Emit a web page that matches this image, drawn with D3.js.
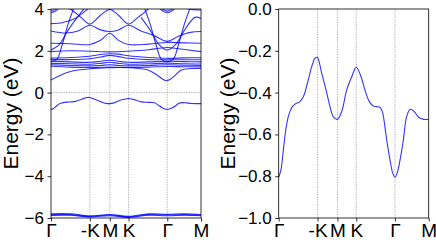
<!DOCTYPE html>
<html>
<head>
<meta charset="utf-8">
<style>
	body { margin: 0; background: #fff; }
	svg { display: block; font-family: "Liberation Sans", Arial, sans-serif; }
	.band { fill: none; stroke: #0000ff; stroke-width: 1.1; stroke-opacity: 0.8; }
	.guide { stroke: #a0a0a0; stroke-width: 0.7; stroke-dasharray: 1.5,1; }
	.tick text { fill: #000; }
	.tick line { stroke: #000; stroke-width: 0.8; }
</style>
</head>
<body>
<script src="https://d3js.org/d3.v7.min.js"></script>
<script>

	// k-path (fraction of path length) and labels
	var kTicks = [0, 0.259, 0.392, 0.517, 0.775, 1];
	var kLabels = ["Γ", "-K", "M", "K", "Γ", "M"];

	var leftYTicks = [4, 2, 0, -2, -4, -6];
	var rightYTicks = [0, -0.2, -0.4, -0.6, -0.8, -1.0];

	// top valence band [k, E]
	var valenceBand = [[0,-0.805],[0.015,-0.77],[0.031,-0.675],[0.047,-0.579],[0.064,-0.515],[0.075,-0.491],
		[0.091,-0.467],[0.109,-0.455],[0.142,-0.443],[0.164,-0.42],[0.197,-0.34],[0.22,-0.276],[0.242,-0.236],
		[0.257,-0.231],[0.287,-0.308],[0.32,-0.40],[0.342,-0.467],[0.364,-0.515],[0.391,-0.528],[0.42,-0.491],
		[0.453,-0.388],[0.487,-0.324],[0.517,-0.279],[0.549,-0.324],[0.575,-0.388],[0.604,-0.443],[0.631,-0.464],
		[0.653,-0.467],[0.675,-0.47],[0.691,-0.491],[0.72,-0.627],[0.742,-0.722],[0.76,-0.785],[0.775,-0.805],
		[0.79,-0.785],[0.809,-0.722],[0.831,-0.627],[0.853,-0.515],[0.877,-0.48],[0.904,-0.491],[0.933,-0.518],
		[0.967,-0.528],[1,-0.528]];

	// deep bands near -6 eV
	var deepBands = [
		[[0,-5.80],[0.13,-5.80],[0.259,-5.90],[0.392,-5.83],[0.517,-5.92],[0.65,-5.80],[0.775,-5.82],[0.89,-5.80],[1,-5.83]],
		[[0,-5.84],[0.13,-5.84],[0.259,-5.93],[0.392,-5.86],[0.517,-5.95],[0.65,-5.84],[0.775,-5.85],[0.89,-5.84],[1,-5.86]],
		[[0,-5.88],[0.13,-5.87],[0.259,-5.95],[0.392,-5.89],[0.517,-5.97],[0.65,-5.87],[0.775,-5.89],[0.89,-5.87],[1,-5.89]]
	];

	// conduction bands
	var conductionBands = [
		[[0,0.6],[0.05,0.78],[0.113,0.97],[0.18,1.08],[0.247,1.13],[0.32,1.17],[0.391,1.19],[0.45,1.2],[0.52,1.19],
			[0.58,1.15],[0.647,1.08],[0.713,0.81],[0.745,0.64],[0.769,0.57],[0.795,0.64],[0.825,0.81],[0.869,1.08],[0.93,1.15],[1,1.16]],
		[[0,1.26],[0.13,1.22],[0.259,1.20],[0.33,1.21],[0.392,1.22],[0.45,1.21],[0.517,1.20],[0.65,1.22],[0.775,1.25],[0.89,1.24],[1,1.24]],
		[[0,1.33],[0.13,1.30],[0.259,1.28],[0.33,1.30],[0.392,1.33],[0.45,1.30],[0.517,1.28],[0.65,1.30],[0.775,1.33],[0.89,1.31],[1,1.30]],
		[[0,1.40],[0.13,1.38],[0.259,1.36],[0.33,1.40],[0.392,1.45],[0.45,1.40],[0.517,1.36],[0.65,1.38],[0.775,1.41],[0.89,1.38],[1,1.37]],
		[[0,1.50],[0.13,1.47],[0.259,1.45],[0.33,1.50],[0.392,1.55],[0.45,1.50],[0.517,1.45],[0.65,1.47],[0.775,1.50],[0.89,1.48],[1,1.47]],
		[[0,1.58],[0.13,1.58],[0.259,1.62],[0.33,1.70],[0.392,1.78],[0.45,1.72],[0.517,1.64],[0.65,1.58],[0.775,1.57],[0.89,1.57],[1,1.57]],
		[[0,1.65],[0.13,1.68],[0.259,1.74],[0.33,1.82],[0.392,1.86],[0.45,1.84],[0.517,1.76],[0.65,1.68],[0.775,1.64],[0.89,1.66],[1,1.67]],
		[[0,1.96],[0.13,2.0],[0.259,1.98],[0.392,1.95],[0.517,1.98],[0.65,2.05],[0.72,2.12],[0.775,2.16],[0.85,2.1],[1,1.96]],
		[[0,2.36],[0.13,2.34],[0.259,2.3],[0.33,2.5],[0.392,2.84],[0.45,2.5],[0.517,2.3],[0.65,2.32],[0.775,2.4],[0.89,2.38],[1,2.36]],
		[[0,2.95],[0.1,2.85],[0.18,2.95],[0.259,3.22],[0.33,3.0],[0.392,2.92],[0.45,3.0],[0.517,3.22],[0.6,2.95],
			[0.68,2.75],[0.775,2.45],[0.85,2.7],[0.93,2.88],[1,2.92]],
		[[0,4.4],[0.138,3.95],[0.2,3.6],[0.259,3.28],[0.33,3.7],[0.392,3.98],[0.45,3.7],[0.517,3.28],[0.58,3.6],[0.64,3.95],[0.7,4.4]],
		[[0,3.3],[0.08,3.35],[0.16,3.55],[0.22,3.85],[0.26,4.1]],
		[[0,1.48],[0.04,1.6],[0.075,2.3],[0.115,3.3],[0.155,4.1]],
		[[0,2.04],[0.055,2.3],[0.115,3.0],[0.175,3.6],[0.23,4.1]],
		[[0.62,4.1],[0.66,3.3],[0.7,2.3],[0.735,1.6],[0.775,1.48],[0.815,1.6],[0.85,2.3],[0.89,3.3],[0.93,4.1]],
		[[0.6,3.6],[0.66,3.0],[0.72,2.3],[0.775,2.04],[0.83,2.3],[0.9,3.1],[0.96,3.6],[1,3.55]],
		[[0,3.82],[0.03,3.9],[0.06,4.1]],
		[[0,3.9],[0.025,3.97],[0.05,4.1]],
		[[0.715,4.1],[0.745,3.9],[0.775,3.82],[0.805,3.9],[0.835,4.1]],
		[[0.725,4.1],[0.75,3.97],[0.775,3.9],[0.8,3.97],[0.825,4.1]],
		[[0.84,4.2],[0.92,4.0],[1,3.95]]
	];

	var svg = d3.select("body").append("svg")
		.attr("width", 436)
		.attr("height", 240);

	function panel(id, x0, x1, domainY, yTicks, fmt, bands, zeroLine) {
		var x = d3.scaleLinear().domain([0, 1]).range([x0, x1]);
		var y = d3.scaleLinear().domain(domainY).range([218, 9]);

		svg.append("clipPath").attr("id", id)
			.append("rect")
			.attr("x", x0).attr("y", 9)
			.attr("width", x1 - x0).attr("height", 209);

		var g = svg.append("g");

		g.selectAll(".vguide")
			.data(kTicks.slice(1, -1))
			.enter().append("line")
			.attr("class", "guide")
			.attr("x1", function(d) { return x(d); })
			.attr("x2", function(d) { return x(d); })
			.attr("y1", 9).attr("y2", 218);

		if (zeroLine) {
			g.append("line")
				.attr("class", "guide")
				.attr("x1", x0).attr("x2", x1)
				.attr("y1", y(0)).attr("y2", y(0));
		}

		var line = d3.line()
			.curve(d3.curveCatmullRom.alpha(0.5))
			.x(function(d) { return x(d[0]); })
			.y(function(d) { return y(d[1]); });

		g.append("g")
			.attr("clip-path", "url(#" + id + ")")
			.selectAll("path")
			.data(bands)
			.enter().append("path")
			.attr("class", "band")
			.attr("d", line);

		var ax = g.append("g")
			.attr("transform", "translate(" + x0 + ",0)")
			.call(d3.axisLeft(y).tickValues(yTicks).tickSize(3.5).tickPadding(3.5).tickFormat(fmt));
		ax.selectAll("text").attr("font-size", 17).attr("font-family", "Liberation Sans, Arial, sans-serif");

		var bx = g.append("g")
			.attr("transform", "translate(0,218)")
			.call(d3.axisBottom(x).tickValues(kTicks).tickSize(3.5).tickPadding(2)
				.tickFormat(function(d, i) { return kLabels[i]; }));
		bx.selectAll("text").attr("font-size", 19).attr("font-family", "Liberation Sans, Arial, sans-serif");

		g.selectAll(".domain").remove();

		g.append("rect")
			.attr("x", x0).attr("y", 9)
			.attr("width", x1 - x0).attr("height", 209)
			.attr("fill", "none")
			.attr("stroke", "#000")
			.attr("stroke-width", 0.8);
	}

	panel("clipL", 51, 201, [-6, 4], leftYTicks, d3.format("d"),
		[valenceBand].concat(deepBands, conductionBands), true);
	panel("clipR", 278.7, 428.7, [-1, 0], rightYTicks, d3.format(".1f"), [valenceBand], false);

	svg.selectAll(".ylabel")
		.data([18, 235])
		.enter().append("text")
		.attr("transform", function(d) { return "translate(" + d + ",113.5) rotate(-90)"; })
		.attr("text-anchor", "middle")
		.attr("font-size", 21)
		.attr("font-family", "Liberation Sans, Arial, sans-serif")
		.text("Energy (eV)");

</script>
</body>
</html>
